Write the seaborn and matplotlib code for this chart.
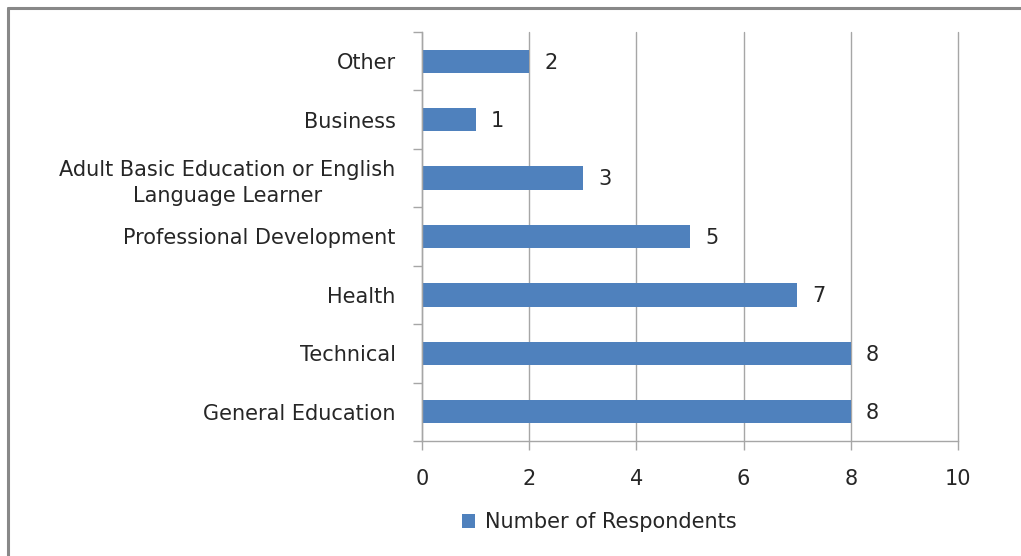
import matplotlib
matplotlib.use("Agg")
import matplotlib.pyplot as plt
from matplotlib.patches import Patch
from matplotlib.lines import Line2D
import numpy as np
import pandas as pd
import seaborn as sns

categories = [
    "Other",
    "Business",
    "Adult Basic Education or English\nLanguage Learner",
    "Professional Development",
    "Health",
    "Technical",
    "General Education",
]
respondents = [2, 1, 3, 5, 7, 8, 8]
x_ticks = [0, 2, 4, 6, 8, 10]
series_name = "Number of Respondents"

bar_color = "#4F81BD"
grid_color = "#A6A6A6"
text_color = "#262626"
font_size = 15

sns.set_theme(style="white")
plt.rcParams["font.family"] = ["DejaVu Sans"]

df = pd.DataFrame({"category": categories, "count": respondents})

fig = plt.figure(figsize=(10.21, 5.56), dpi=100)
ax = fig.add_axes([422 / 1021, 1 - 441 / 556, (958 - 422) / 1021, (441 - 32) / 556])

sns.barplot(data=df, y="category", x="count", orient="h", color=bar_color,
            width=0.4, saturation=1, linewidth=0, ax=ax)

ax.set_xlim(0, 10)
ax.set_ylim(6.5, -0.5)
ax.set_xticks(x_ticks)
ax.set_xticklabels([str(t) for t in x_ticks])
ax.set_xlabel("")
ax.set_ylabel("")

# vertical gridlines only
ax.xaxis.grid(True, color=grid_color, linewidth=1.0)
ax.yaxis.grid(False)
ax.set_axisbelow(True)
for gl in ax.get_xgridlines():
    gl.set_clip_on(False)

for side in ["top", "right"]:
    ax.spines[side].set_visible(False)
for side in ["left", "bottom"]:
    ax.spines[side].set_visible(True)
    ax.spines[side].set_color(grid_color)
    ax.spines[side].set_linewidth(1.0)

# category boundary ticks on the y axis
ax.set_yticks(np.arange(-0.5, len(categories), 1.0), minor=True)
ax.tick_params(axis="y", which="minor", length=6.5, width=1.0, color=grid_color, left=True)
ax.tick_params(axis="y", which="major", length=0, pad=19, labelsize=font_size, labelcolor=text_color)
ax.tick_params(axis="x", which="major", length=6.5, width=1.0, color=grid_color,
               bottom=True, direction="out", pad=14, labelsize=font_size, labelcolor=text_color)
for lbl in ax.get_yticklabels():
    lbl.set_multialignment("center")
    lbl.set_linespacing(1.4)

# value labels
for i, v in enumerate(respondents):
    ax.annotate(str(v), xy=(v, i), xytext=(11, -1), textcoords="offset points",
                ha="left", va="center", fontsize=font_size, color=text_color)

# legend
handle = Patch(facecolor=bar_color, edgecolor="none", label=series_name)
fig.legend(handles=[handle], loc="center", bbox_to_anchor=(599 / 1021, 1 - 522 / 556),
           frameon=False, fontsize=font_size, handlelength=0.65, handleheight=0.65,
           handletextpad=0.45, labelcolor=text_color)

# outer chart frame
frame_color = "#888888"
fig.add_artist(Line2D([8 / 1021, 1.0], [1 - 8 / 556, 1 - 8 / 556], transform=fig.transFigure,
                      color=frame_color, linewidth=2.2))
fig.add_artist(Line2D([8 / 1021, 8 / 1021], [0.0, 1 - 8 / 556], transform=fig.transFigure,
                      color=frame_color, linewidth=2.2))

fig.savefig("out.png", dpi=100, facecolor="white")
